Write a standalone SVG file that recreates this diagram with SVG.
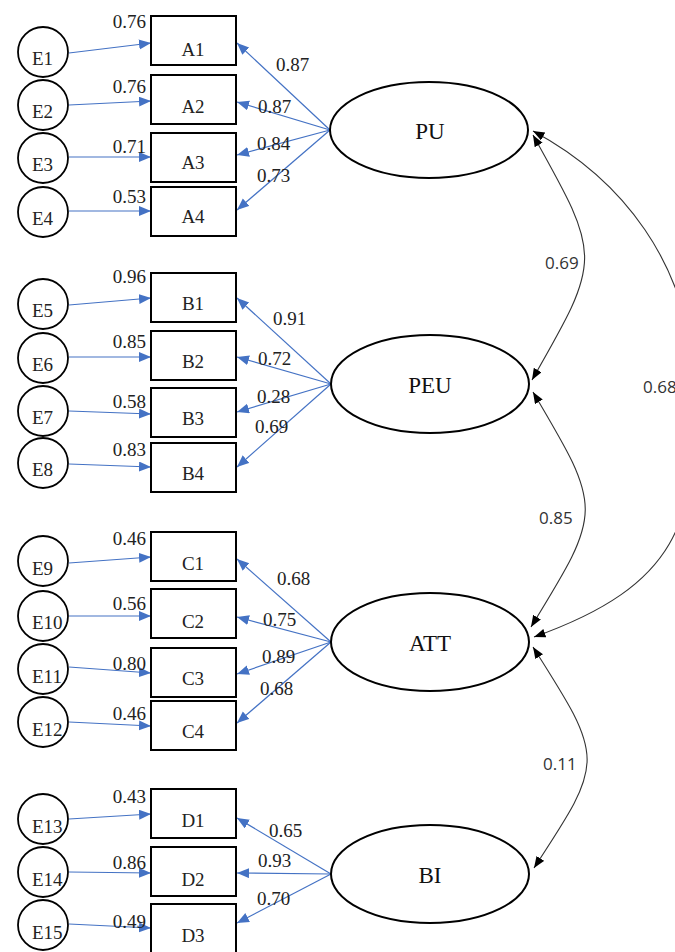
<svg xmlns="http://www.w3.org/2000/svg" width="675" height="952" viewBox="0 0 675 952">
<style>
.bg{fill:#fff}
.box{fill:#fff;stroke:#000;stroke-width:2}
.err{fill:#fff;stroke:#000;stroke-width:1.8}
.lat{fill:#fff;stroke:#000;stroke-width:2}
.t{font-family:"Liberation Serif",serif;font-size:19px;fill:#222}
.tl{font-family:"Liberation Serif",serif;font-size:23px;fill:#111;text-anchor:middle}
.tm{text-anchor:middle}
.te{text-anchor:end}
.tc{font-family:"Open Sans","Liberation Sans",sans-serif;font-size:17px;fill:#333}
.bl{stroke:#4472C4;stroke-width:1.2;fill:none;marker-end:url(#ab)}
.cv{stroke:#333;stroke-width:1.1;fill:none;marker-start:url(#ak);marker-end:url(#ak)}
</style>
<defs>
<marker id="ab" markerUnits="userSpaceOnUse" markerWidth="13" markerHeight="11" refX="12" refY="5" orient="auto" viewBox="0 0 13 11">
<path d="M0,0 L12,5 L0,10 z" fill="#4472C4"/>
</marker>
<marker id="ak" markerUnits="userSpaceOnUse" markerWidth="12" markerHeight="10" refX="11.5" refY="4.5" orient="auto-start-reverse" viewBox="0 0 12 10">
<path d="M0,0 L11.5,4.5 L0,9 z" fill="#000"/>
</marker>
</defs>
<rect class="bg" x="0" y="0" width="675" height="952"/>

<g id="connectors">
<line class="bl" x1="69" y1="53" x2="151" y2="43"/>
<line class="bl" x1="69" y1="105" x2="151" y2="101"/>
<line class="bl" x1="69" y1="157" x2="151" y2="157"/>
<line class="bl" x1="69" y1="211" x2="151" y2="211"/>
<line class="bl" x1="69" y1="305" x2="151" y2="298"/>
<line class="bl" x1="69" y1="357" x2="151" y2="357"/>
<line class="bl" x1="69" y1="411" x2="151" y2="414"/>
<line class="bl" x1="69" y1="464" x2="151" y2="467"/>
<line class="bl" x1="69" y1="563" x2="151" y2="557"/>
<line class="bl" x1="69" y1="616" x2="151" y2="616"/>
<line class="bl" x1="69" y1="667" x2="151" y2="673"/>
<line class="bl" x1="69" y1="722" x2="151" y2="726"/>
<line class="bl" x1="69" y1="819" x2="151" y2="814"/>
<line class="bl" x1="69" y1="872" x2="151" y2="873"/>
<line class="bl" x1="69" y1="924" x2="151" y2="928"/>
<line class="bl" x1="330" y1="130" x2="237" y2="43"/>
<line class="bl" x1="330" y1="130" x2="237" y2="102"/>
<line class="bl" x1="330" y1="130" x2="237" y2="155"/>
<line class="bl" x1="330" y1="130" x2="237" y2="210"/>
<line class="bl" x1="331" y1="384" x2="237" y2="298"/>
<line class="bl" x1="331" y1="384" x2="237" y2="357"/>
<line class="bl" x1="331" y1="384" x2="237" y2="412"/>
<line class="bl" x1="331" y1="384" x2="237" y2="467"/>
<line class="bl" x1="331" y1="642" x2="237" y2="559"/>
<line class="bl" x1="331" y1="642" x2="237" y2="617"/>
<line class="bl" x1="331" y1="642" x2="237" y2="674"/>
<line class="bl" x1="331" y1="642" x2="237" y2="723"/>
<line class="bl" x1="331" y1="874" x2="237" y2="818"/>
<line class="bl" x1="331" y1="874" x2="237" y2="873"/>
<line class="bl" x1="331" y1="874" x2="237" y2="923"/>
<path class="cv" d="M533,135 C602,258 602,258 532,380"/>
<path class="cv" d="M533,392 C603,510 603,510 531,627"/>
<path class="cv" d="M533,647 C605,760 605,760 534,868"/>
<path class="cv" d="M533,131 C615,175 695,260 695,400 C695,520 680,585 534,637"/>
</g>

<g id="labels">
<text class="t te" x="146" y="28">0.76</text>
<text class="t te" x="146" y="93">0.76</text>
<text class="t te" x="146" y="153">0.71</text>
<text class="t te" x="146" y="203">0.53</text>
<text class="t te" x="146" y="283">0.96</text>
<text class="t te" x="146" y="348">0.85</text>
<text class="t te" x="146" y="408">0.58</text>
<text class="t te" x="146" y="456">0.83</text>
<text class="t te" x="146" y="545">0.46</text>
<text class="t te" x="146" y="610">0.56</text>
<text class="t te" x="146" y="670">0.80</text>
<text class="t te" x="146" y="720">0.46</text>
<text class="t te" x="146" y="803">0.43</text>
<text class="t te" x="146" y="869">0.86</text>
<text class="t te" x="146" y="928">0.49</text>

<text class="t" x="276" y="71">0.87</text>
<text class="t" x="258" y="113">0.87</text>
<text class="t" x="257" y="150">0.84</text>
<text class="t" x="257" y="182">0.73</text>
<text class="t" x="273" y="325">0.91</text>
<text class="t" x="258" y="365">0.72</text>
<text class="t" x="257" y="403">0.28</text>
<text class="t" x="255" y="433">0.69</text>
<text class="t" x="277" y="585">0.68</text>
<text class="t" x="263" y="626">0.75</text>
<text class="t" x="262" y="663">0.89</text>
<text class="t" x="260" y="695">0.68</text>
<text class="t" x="269" y="837">0.65</text>
<text class="t" x="258" y="867">0.93</text>
<text class="t" x="257" y="905">0.70</text>

<text class="tc" x="545" y="269">0.69</text>
<text class="tc" x="643" y="393">0.68</text>
<text class="tc" x="539" y="524">0.85</text>
<text class="tc" x="543" y="770">0.11</text>
</g>

<g id="E1"><circle class="err" cx="43" cy="52" r="25"/><text class="t" x="32" y="65">E1</text></g>
<g id="E2"><circle class="err" cx="43" cy="105" r="25"/><text class="t" x="32" y="118">E2</text></g>
<g id="E3"><circle class="err" cx="43" cy="158" r="25"/><text class="t" x="32" y="171">E3</text></g>
<g id="E4"><circle class="err" cx="43" cy="212" r="25"/><text class="t" x="32" y="225">E4</text></g>
<g id="E5"><circle class="err" cx="43" cy="304" r="25"/><text class="t" x="32" y="317">E5</text></g>
<g id="E6"><circle class="err" cx="43" cy="358" r="25"/><text class="t" x="32" y="371">E6</text></g>
<g id="E7"><circle class="err" cx="43" cy="411" r="25"/><text class="t" x="32" y="424">E7</text></g>
<g id="E8"><circle class="err" cx="43" cy="463" r="25"/><text class="t" x="32" y="476">E8</text></g>
<g id="E9"><circle class="err" cx="43" cy="561" r="25"/><text class="t" x="32" y="575">E9</text></g>
<g id="E10"><circle class="err" cx="43" cy="616" r="25"/><text class="t" x="32" y="629">E10</text></g>
<g id="E11"><circle class="err" cx="43" cy="669" r="25"/><text class="t" x="32" y="683">E11</text></g>
<g id="E12"><circle class="err" cx="43" cy="722" r="25"/><text class="t" x="32" y="736">E12</text></g>
<g id="E13"><circle class="err" cx="43" cy="819" r="25"/><text class="t" x="32" y="833">E13</text></g>
<g id="E14"><circle class="err" cx="43" cy="872" r="25"/><text class="t" x="32" y="886">E14</text></g>
<g id="E15"><circle class="err" cx="43" cy="925" r="25"/><text class="t" x="32" y="939">E15</text></g>

<g id="A1"><rect class="box" x="151" y="16" width="85" height="49"/><text class="t tm" x="193" y="56">A1</text></g>
<g id="A2"><rect class="box" x="151" y="75" width="85" height="49"/><text class="t tm" x="193" y="113">A2</text></g>
<g id="A3"><rect class="box" x="151" y="133" width="85" height="49"/><text class="t tm" x="193" y="169">A3</text></g>
<g id="A4"><rect class="box" x="151" y="187" width="85" height="49"/><text class="t tm" x="193" y="223">A4</text></g>
<g id="B1"><rect class="box" x="151" y="273" width="85" height="49"/><text class="t tm" x="193" y="310">B1</text></g>
<g id="B2"><rect class="box" x="151" y="331" width="85" height="49"/><text class="t tm" x="193" y="368">B2</text></g>
<g id="B3"><rect class="box" x="151" y="388" width="85" height="49"/><text class="t tm" x="193" y="425">B3</text></g>
<g id="B4"><rect class="box" x="151" y="443" width="85" height="49"/><text class="t tm" x="193" y="480">B4</text></g>
<g id="C1"><rect class="box" x="151" y="532" width="85" height="49"/><text class="t tm" x="193" y="570">C1</text></g>
<g id="C2"><rect class="box" x="151" y="589" width="85" height="49"/><text class="t tm" x="193" y="628">C2</text></g>
<g id="C3"><rect class="box" x="151" y="648" width="85" height="49"/><text class="t tm" x="193" y="685">C3</text></g>
<g id="C4"><rect class="box" x="151" y="701" width="85" height="49"/><text class="t tm" x="193" y="738">C4</text></g>
<g id="D1"><rect class="box" x="151" y="789" width="85" height="49"/><text class="t tm" x="193" y="827">D1</text></g>
<g id="D2"><rect class="box" x="151" y="847" width="85" height="49"/><text class="t tm" x="193" y="886">D2</text></g>
<g id="D3"><rect class="box" x="151" y="904" width="85" height="49"/><text class="t tm" x="193" y="942">D3</text></g>

<g id="PU"><ellipse class="lat" cx="429" cy="130" rx="99" ry="48"/><text class="tl" x="430" y="139">PU</text></g>
<g id="PEU"><ellipse class="lat" cx="430" cy="384" rx="99" ry="49"/><text class="tl" x="430" y="393">PEU</text></g>
<g id="ATT"><ellipse class="lat" cx="430" cy="642" rx="99" ry="49"/><text class="tl" x="430" y="651">ATT</text></g>
<g id="BI"><ellipse class="lat" cx="430" cy="874" rx="99" ry="49"/><text class="tl" x="430" y="883">BI</text></g>
</svg>
